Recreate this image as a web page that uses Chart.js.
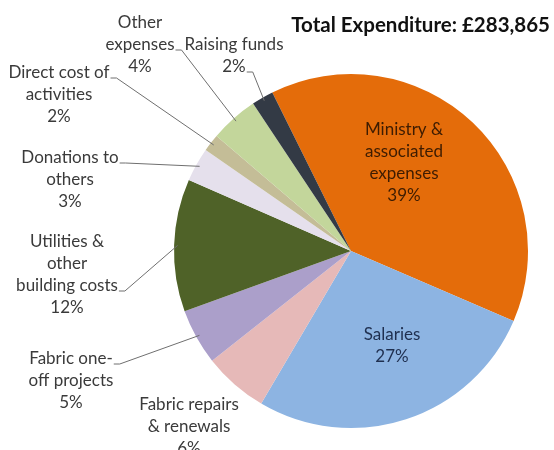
<!DOCTYPE html>
<html>
<head>
<meta charset="utf-8">
<script src="https://cdn.jsdelivr.net/npm/chart.js@4"></script>
<style>
  body { margin: 0; background: #fff; }
  #wrap { width: 554px; height: 450px; }
</style>
</head>
<body>
<div id="wrap"><canvas id="myChart" width="554" height="450"></canvas></div>
<script>
// data (share of total, %)
const chartTitle = 'Total Expenditure: £283,865';
const categories = [
    ['Ministry &', 'associated', 'expenses'],
    ['Salaries'],
    ['Fabric repairs', '& renewals'],
    ['Fabric one-', 'off projects'],
    ['Utilities &', 'other', 'building costs'],
    ['Donations to', 'others'],
    ['Direct cost of', 'activities'],
    ['Other', 'expenses'],
    ['Raising funds']
];
const shares = [38.8, 27.0, 5.9, 5.1, 12.1, 3.1, 1.6, 4.4, 2.0];
const colours = ['#e46c0a', '#8db4e2', '#e6b9b8', '#ab9fca', '#4f6228', '#e5e0ec', '#c4bd97', '#c3d69b', '#333a45'];

// where each label sits (text centre / first line), which line carries the leader
const labelPlaces = [
    { x: 404, y: 130, colour: '#3d1c02' },
    { x: 392, y: 335, colour: '#1f2f4f' },
    { x: 189, y: 405 },
    { x: 71, y: 359, lead: 0 },
    { x: 67, y: 242, lead: 2 },
    { x: 70, y: 158, lead: 0 },
    { x: 59, y: 73, lead: 0 },
    { x: 140, y: 23, lead: 1 },
    { x: 234, y: 45, lead: 1 }
];

const FONT = '17px Lato';
const LINE_H = 22;

const labelPlugin = {
    id: 'pieLabels',
    afterDatasetsDraw(chart) {
        const ctx = chart.ctx;
        const meta = chart.getDatasetMeta(0);
        const data = chart.data.datasets[0].data;
        const total = data.reduce((a, b) => a + b, 0);
        ctx.save();
        ctx.font = FONT;
        ctx.textAlign = 'center';
        ctx.textBaseline = 'middle';

        meta.data.forEach((arc, i) => {
            const p = arc.getProps(['x', 'y', 'startAngle', 'endAngle', 'outerRadius'], true);
            const place = labelPlaces[i];
            const lines = categories[i].concat([Math.round(data[i] / total * 100) + '%']);
            ctx.fillStyle = place.colour || '#3a3a3a';
            lines.forEach((t, k) => ctx.fillText(t, place.x, place.y + k * LINE_H));

            // leader line
            if (place.lead !== undefined) {
                const mid = (p.startAngle + p.endAngle) / 2;
                const r = p.outerRadius * 0.98;
                const ex = p.x + Math.cos(mid) * r;
                const ey = p.y + Math.sin(mid) * r;
                const w = ctx.measureText(lines[place.lead]).width;
                const sx = place.x + w / 2 + 1;
                const sy = place.y + place.lead * LINE_H + 5;
                ctx.strokeStyle = '#6f6f6f';
                ctx.lineWidth = 1;
                ctx.beginPath();
                ctx.moveTo(sx, sy);
                ctx.lineTo(sx + 6, sy);
                ctx.lineTo(ex, ey);
                ctx.stroke();
            }
        });

        // title
        ctx.font = 'bold 20.5px Lato';
        ctx.fillStyle = '#111';
        ctx.textAlign = 'right';
        ctx.fillText(chartTitle, 550, 25);
        ctx.restore();
    }
};

let myChart;
function initChart() {
    const ctx = document.getElementById('myChart').getContext('2d');
    myChart = new Chart(ctx, {
        type: 'pie',
        data: {
            labels: categories,
            datasets: [{
                data: shares,
                backgroundColor: colours,
                borderWidth: 0
            }]
        },
        options: {
            responsive: false,
            animation: false,
            rotation: -26.4,
            layout: { padding: { top: 74, bottom: 22, left: 174, right: 26 } },
            plugins: {
                legend: { display: false },
                tooltip: { enabled: false }
            }
        },
        plugins: [labelPlugin]
    });
}
initChart();
</script>
</body>
</html>
